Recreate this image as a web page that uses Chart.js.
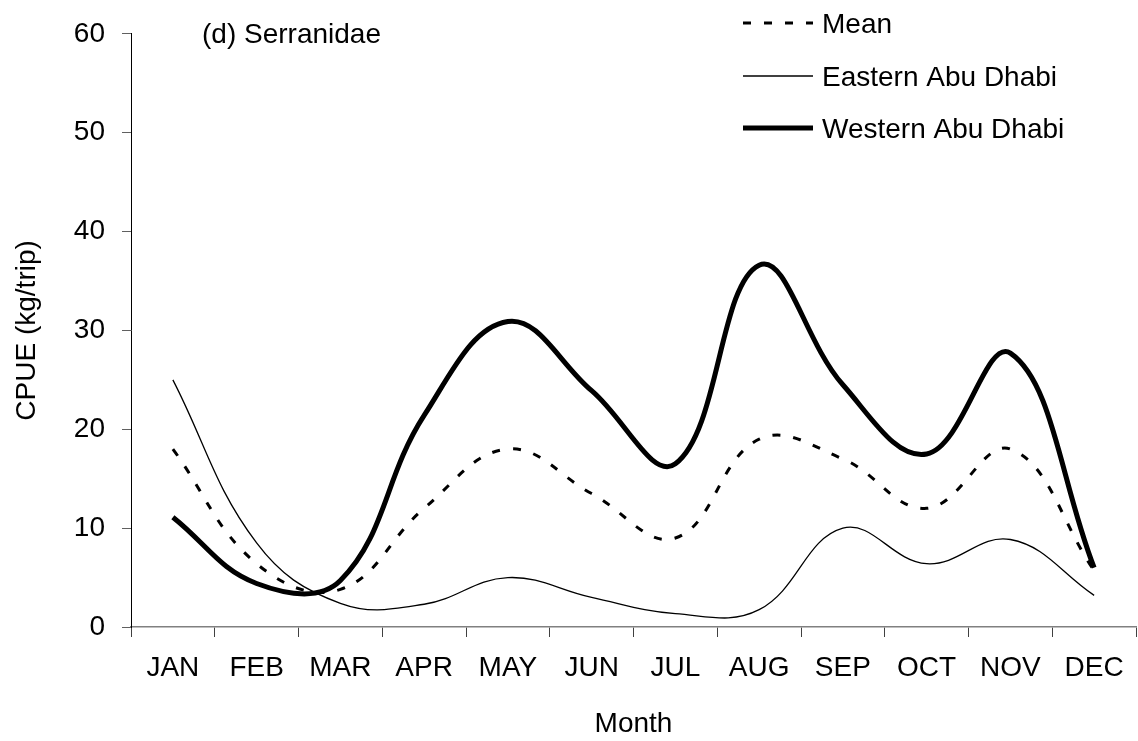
<!DOCTYPE html>
<html>
<head>
<meta charset="utf-8">
<title>CPUE Serranidae</title>
<script src="https://cdn.jsdelivr.net/npm/chart.js@4/dist/chart.umd.min.js"></script>
<style>
  html, body { margin: 0; padding: 0; background: #fff; }
  #wrap { width: 1138px; height: 741px; }
</style>
</head>
<body>
<div id="wrap"><canvas id="myChart" width="1138" height="741"></canvas></div>
<script>
// valores (kg/trip)
const months = ["JAN", "FEB", "MAR", "APR", "MAY", "JUN", "JUL", "AUG", "SEP", "OCT", "NOV", "DEC"];
const meanCpue = [18.0, 6.4, 3.8, 12.0, 18.0, 13.5, 9.0, 19.0, 17.0, 12.0, 18.0, 5.7];
const easternCpue = [25.0, 8.5, 2.4, 2.3, 5.0, 3.0, 1.35, 1.75, 10.0, 6.4, 8.85, 3.2];
const westernCpue = [11.1, 4.4, 4.7, 21.4, 30.9, 23.9, 16.5, 36.6, 24.5, 17.5, 27.7, 6.0];

const yMin = 0;
const yMax = 60;
const yStep = 10;

const panelTitle = "(d) Serranidae";
const seriesNames = ["Mean", "Eastern Abu Dhabi", "Western Abu Dhabi"];

const fontFamily = "'Liberation Sans', Arial, sans-serif";
Chart.defaults.font.family = fontFamily;
Chart.defaults.font.size = 28;
Chart.defaults.color = "#000";

const ctx = document.getElementById("myChart");

// estilos de cada serie, en el mismo orden que seriesNames
const estilos = [
  { width: 3, dash: [8, 13] },
  { width: 1.3, dash: [] },
  { width: 5, dash: [] }
];

// leyenda y titulo dibujados a mano (arriba a la derecha)
const extras = {
  id: "extras",
  afterDraw(chart) {
    const c = chart.ctx;
    c.save();
    c.fillStyle = "#000";
    c.strokeStyle = "#000";
    c.font = "28px " + fontFamily;
    c.textBaseline = "alphabetic";
    c.textAlign = "left";
    c.fillText(panelTitle, 202, 43);

    const rowsY = [23, 76, 128];
    seriesNames.forEach((name, i) => {
      c.lineWidth = estilos[i].width;
      c.setLineDash(estilos[i].dash);
      c.beginPath();
      c.moveTo(743, rowsY[i]);
      c.lineTo(813, rowsY[i]);
      c.stroke();
      c.setLineDash([]);
      c.fillText(name, 822, rowsY[i] + 9.5);
    });
    c.restore();
  }
};

const chart = new Chart(ctx, {
  type: "line",
  data: {
    labels: months,
    datasets: [
      { label: seriesNames[0], data: meanCpue, borderColor: "#000", borderWidth: estilos[0].width, borderDash: estilos[0].dash },
      { label: seriesNames[1], data: easternCpue, borderColor: "#000", borderWidth: estilos[1].width },
      { label: seriesNames[2], data: westernCpue, borderColor: "#000", borderWidth: estilos[2].width }
    ]
  },
  options: {
    responsive: false,
    animation: false,
    elements: {
      point: { radius: 0, hoverRadius: 0 },
      line: { tension: 0.4, fill: false, borderCapStyle: "butt", borderJoinStyle: "round" }
    },
    layout: { padding: { top: 28, right: 2, left: 0, bottom: 0 } },
    plugins: {
      legend: { display: false },
      tooltip: { enabled: false }
    },
    scales: {
      x: {
        type: "category",
        offset: true,
        grid: { offset: true, drawOnChartArea: false, drawTicks: true, tickLength: 10, color: "#404040", lineWidth: 1 },
        border: { color: "#808080", width: 1.5 },
        ticks: { padding: 14, maxRotation: 0, autoSkip: false, font: { size: 28 } },
        title: { display: true, text: "Month", font: { size: 28 }, padding: { top: 0, bottom: 0 } },
        afterFit(scale) { scale.height = 114; }
      },
      y: {
        min: yMin,
        max: yMax,
        ticks: { stepSize: yStep, padding: 17, font: { size: 28 } },
        grid: { drawOnChartArea: false, drawTicks: true, tickLength: 9, color: "#606060", lineWidth: 1 },
        border: { color: "#000", width: 1 },
        title: { display: true, text: "CPUE (kg/trip)", font: { size: 28 }, padding: { top: 10, bottom: 0 } },
        afterFit(scale) { scale.width = 131; }
      }
    }
  },
  plugins: [extras]
});
</script>
</body>
</html>
